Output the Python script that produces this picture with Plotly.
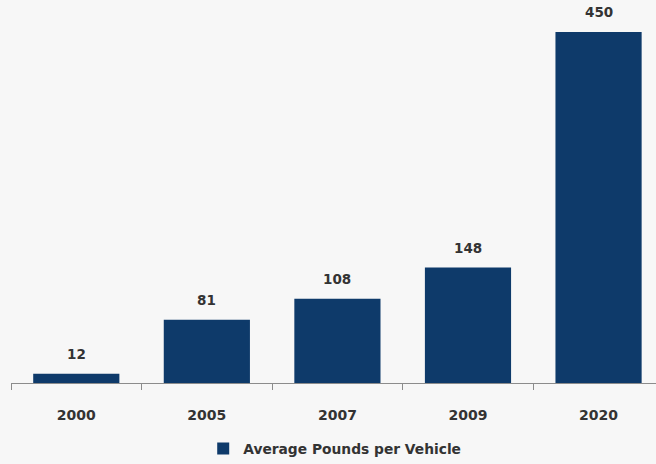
import plotly.graph_objects as go

years = ["2000", "2005", "2007", "2009", "2020"]
pounds = [12, 81, 108, 148, 450]
series_name = "Average Pounds per Vehicle"

navy = "#0E3A6A"
txt = "#333333"
font_family = "DejaVu Sans, Verdana, sans-serif"

fig = go.Figure(
    go.Bar(
        x=years,
        y=pounds,
        name=series_name,
        marker=dict(color=navy, line=dict(width=0)),
        width=0.66,
        showlegend=True,
    )
)

# value labels: category index position, value height
for i, v in enumerate(pounds):
    fig.add_annotation(
        x=i,
        y=v,
        xref="x",
        yref="y",
        text=str(v),
        showarrow=False,
        yanchor="middle",
        yshift=20,
        font=dict(family=font_family, size=13.5, color=txt, weight="bold"),
    )

fig.update_layout(
    width=656,
    height=464,
    margin=dict(l=11, r=0, t=0, b=80),
    paper_bgcolor="#F7F7F7",
    plot_bgcolor="#F7F7F7",
    font=dict(family=font_family, color=txt),
    showlegend=True,
    legend=dict(
        orientation="h",
        x=0.298,
        xanchor="left",
        y=-0.171,
        yanchor="middle",
        font=dict(family=font_family, size=13.8, color=txt, weight="bold"),
        bgcolor="rgba(0,0,0,0)",
        itemwidth=30,
    ),
    xaxis=dict(
        type="category",
        range=[-0.5, 4.44],
        showline=True,
        linecolor="#8C8C8C",
        linewidth=1,
        ticks="outside",
        tickson="boundaries",
        ticklen=6,
        tickcolor="#8C8C8C",
        showgrid=False,
        tickfont=dict(family=font_family, size=14, color=txt, weight="bold"),
        ticklabelstandoff=19,
    ),
    yaxis=dict(
        range=[0, 491],
        visible=False,
        showgrid=False,
        zeroline=False,
    ),
)

fig.write_html("out.html")
